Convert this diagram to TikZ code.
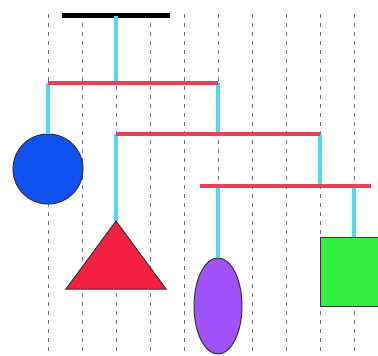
\documentclass[tikz,border=0pt]{standalone}
\usepackage{tikz}
\usetikzlibrary{shapes.geometric}
\definecolor{ballblue}{HTML}{1052F2}
\definecolor{conered}{HTML}{F5203F}
\definecolor{eggviolet}{HTML}{A252FA}
\definecolor{boxgreen}{HTML}{35F042}
\definecolor{stringcyan}{HTML}{52D8F0}
\definecolor{armred}{HTML}{E8405A}
\begin{document}
\begin{tikzpicture}[
  x=1pt,y=-1pt,
  guide/.style={draw=black!55,line width=0.8pt,dash pattern=on 4pt off 5pt},
  arm/.style={draw=armred,line width=3.2pt},
  string/.style={draw=stringcyan,line width=3.6pt},
  weight/.style={draw=black!80,line width=1pt,inner sep=0pt}
]
\useasboundingbox (0,0) rectangle (378,356);

% ---------------- guide lines
\foreach \x in {48,82,...,354} \draw[guide] (\x,14) -- (\x,356);

% ---------------- ceiling and arms
\coordinate (ceilL) at (62,15.5);
\coordinate (ceilR) at (170,15.5);
\coordinate (hook) at (116,15.5);
\draw[line width=5pt] (ceilL) -- (ceilR);

\coordinate (a1L) at (48,83);
\coordinate (a1m) at (116,83);
\coordinate (a1R) at (218,83);
\coordinate (a2L) at (116,134);
\coordinate (a2m) at (218,134);
\coordinate (a2R) at (320,134);
\coordinate (a3L) at (200,186);
\coordinate (a3a) at (218,186);
\coordinate (a3m) at (320,186);
\coordinate (a3R) at (371,186);
\coordinate (a3b) at (354,186);

% ---------------- weights
\node[weight,circle,fill=ballblue,minimum size=70pt] (ball) at (48,169) {};
\coordinate (apex) at (116,221);
\node[weight,ellipse,fill=eggviolet,minimum width=48pt,minimum height=96pt] (egg) at (218,306) {};
\node[weight,rectangle,fill=boxgreen,minimum width=68pt,minimum height=69pt] (box) at (354,271.5) {};

% ---------------- strings
\draw[string] (hook) -- (a1m);
\draw[string] (a1L) -- (ball.north);
\draw[string] (a1R) -- (a2m);
\draw[string] (a2L) -- (apex);
\draw[string] (a2R) -- (a3m);
\draw[string] (a3a) -- (egg.north);
\draw[string] (a3b) -- (box.north);

\draw[arm] (a1L) -- (a1R);
\draw[arm] (a2L) -- (a2R);
\draw[arm] (a3L) -- (a3R);

\filldraw[weight,fill=conered] (apex) -- (166,289) -- (66,289) -- cycle;
\end{tikzpicture}
\end{document}
